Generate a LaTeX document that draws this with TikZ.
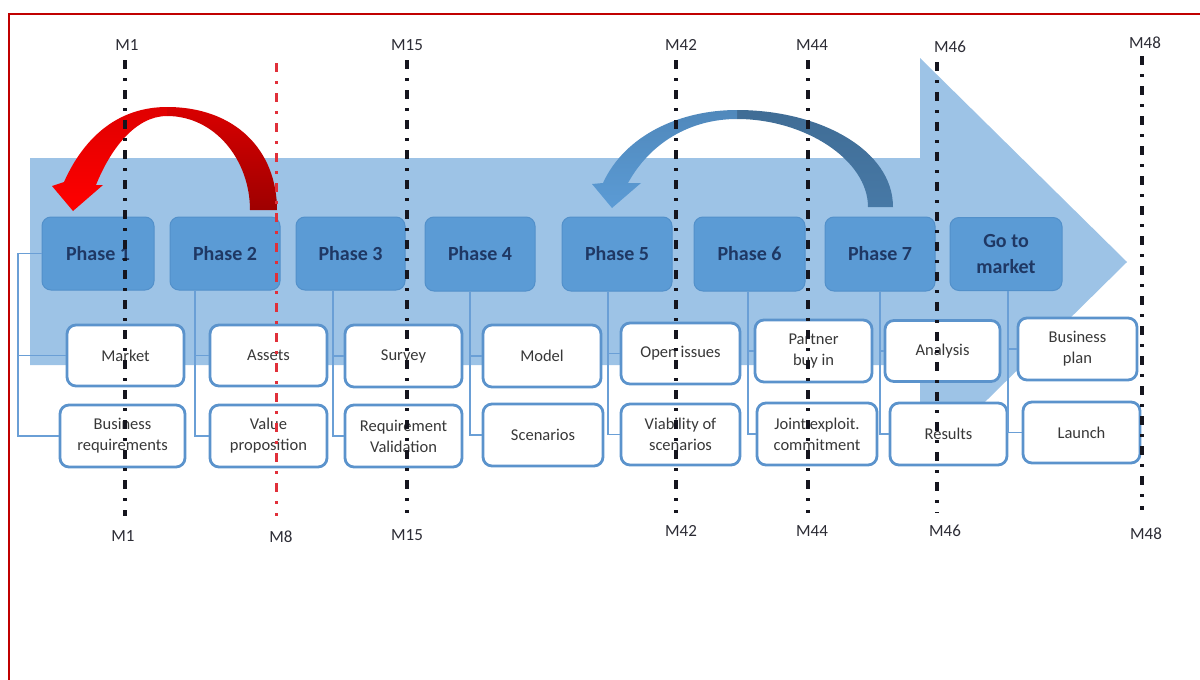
\documentclass[tikz,border=0pt]{standalone}
\usepackage{fontspec}
\setmainfont{Carlito}
\usetikzlibrary{calc}

\definecolor{arrowbg}{HTML}{9DC3E6}
\definecolor{phasefill}{HTML}{5B9BD5}
\definecolor{phaseedge}{HTML}{5290CA}
\definecolor{phasetext}{HTML}{1F3864}
\definecolor{boxedge}{HTML}{5B93CC}
\definecolor{conncol}{HTML}{6A9FD6}
\definecolor{textgrey}{HTML}{383838}
\definecolor{framered}{HTML}{C00000}
\definecolor{milestone}{HTML}{15151E}
\definecolor{redline}{HTML}{E0303A}

\tikzset{
  phase/.style={rounded corners=9pt, fill=phasefill, draw=phaseedge, line width=1pt,
    text=phasetext, font=\fontsize{20}{26}\selectfont\bfseries, align=center, inner sep=0pt},
  task/.style={rounded corners=9pt, fill=white, draw=boxedge, line width=2.8pt,
    text=textgrey, font=\fontsize{16.5}{21}\selectfont, align=center, inner sep=0pt},
  conn/.style={draw=conncol, line width=1.8pt},
  mlabel/.style={text=milestone!90, font=\fontsize{17}{18}\selectfont, inner sep=0pt},
  mline/.style={draw=milestone, line width=3.2pt, dash pattern=on 9pt off 9pt on 2.5pt off 9.5pt},
  mlinered/.style={draw=redline, line width=3pt, dash pattern=on 9pt off 9pt on 2.5pt off 9.5pt},
}

\begin{document}
\begin{tikzpicture}[x=1pt, y=-1pt]
\useasboundingbox (0,0) rectangle (1200,680);

% outer frame (open on the right and bottom)
\draw[framered, line width=2.4pt] (9,682) -- (9,14) -- (1202,14);

% large process arrow in the background
\fill[arrowbg] (30,158) -- (920,158) -- (920,58) -- (1127,262) -- (920,466)
  -- (920,365) -- (30,365) -- cycle;

% phase boxes
\node[phase, minimum width=112pt, minimum height=73pt] (p1) at (98,253.5) {Phase 1};
\node[phase, minimum width=110pt, minimum height=73pt] (p2) at (225,253.5) {Phase 2};
\node[phase, minimum width=109pt, minimum height=73pt] (p3) at (350.5,253.5) {Phase 3};
\node[phase, minimum width=110pt, minimum height=74pt] (p4) at (480,254) {Phase 4};
\node[phase, minimum width=110pt, minimum height=74pt] (p5) at (617,254) {Phase 5};
\node[phase, minimum width=111pt, minimum height=74pt] (p6) at (749.5,254) {Phase 6};
\node[phase, minimum width=110pt, minimum height=74pt] (p7) at (880,254) {Phase 7};
\node[phase, minimum width=112pt, minimum height=73pt] (go) at (1006,254) {Go to\\market};

% task boxes, first row
\node[task, minimum width=117pt, minimum height=61pt] (market)  at (125.5,355.5) {Market};
\node[task, minimum width=117pt, minimum height=61pt] (assets)  at (268.5,355.5) {Assets};
\node[task, minimum width=117pt, minimum height=62pt] (survey)  at (403.5,356) {Survey};
\node[task, minimum width=118pt, minimum height=62pt] (model)   at (542,356) {Model};
\node[task, minimum width=119pt, minimum height=61pt] (open)    at (680.5,353.5) {Open issues};
\node[task, minimum width=117pt, minimum height=62pt] (partner) at (813.5,351) {Partner\\buy in};
\node[task, minimum width=115pt, minimum height=61pt] (analysis) at (942.5,351) {Analysis};
\node[task, minimum width=119pt, minimum height=62pt] (bplan)   at (1077.5,349) {Business\\plan};

% task boxes, second row
\node[task, minimum width=125pt, minimum height=62pt] (breq)    at (122.5,436) {Business\\requirements};
\node[task, minimum width=117pt, minimum height=62pt] (value)   at (268.5,436) {Value\\proposition};
\node[task, minimum width=117pt, minimum height=62pt] (reqval)  at (403.5,436) {Requirement\\Validation};
\node[task, minimum width=120pt, minimum height=62pt] (scen)    at (543,435) {Scenarios};
\node[task, minimum width=119pt, minimum height=61pt] (viab)    at (680.5,434.5) {Viability of\\scenarios};
\node[task, minimum width=120pt, minimum height=62pt] (joint)   at (817,434) {Joint exploit.\\commitment};
\node[task, minimum width=117pt, minimum height=62pt] (results) at (948.5,434) {Results};
\node[task, minimum width=117pt, minimum height=61pt] (launch)  at (1081.5,432.5) {Launch};

% connectors from each phase to its tasks
\coordinate (p1rail) at (18,253.5);
\draw[conn] (p1.west) -- (p1rail) |- (breq.west);
\draw[conn] (p1rail) |- (market.west);
\draw[conn] ([xshift=-30pt]p2.south) |- (value.west);
\draw[conn] ([xshift=-30pt]p2.south) |- (assets.west);
\draw[conn] ([xshift=-17.5pt]p3.south) |- (reqval.west);
\draw[conn] ([xshift=-17.5pt]p3.south) |- (survey.west);
\draw[conn] ([xshift=-10pt]p4.south) |- (scen.west);
\draw[conn] ([xshift=-10pt]p4.south) |- (model.west);
\draw[conn] ([xshift=-9pt]p5.south) |- (viab.west);
\draw[conn] ([xshift=-9pt]p5.south) |- (open.west);
\draw[conn] ([xshift=-1.5pt]p6.south) |- (joint.west);
\draw[conn] ([xshift=-1.5pt]p6.south) |- (partner.west);
\draw[conn] (p7.south) |- (results.west);
\draw[conn] (p7.south) |- (analysis.west);
\draw[conn] ([xshift=2pt]go.south) |- (launch.west);
\draw[conn] ([xshift=2pt]go.south) |- (bplan.west);

% red loop arrow from phase 2 back to phase 1
\shade[top color=red!85!black, bottom color=red!62!black]
  (167,107) .. controls (235,107) and (277,150) .. (277,210)
  -- (250,210) .. controls (250,160) and (215,116) .. (167,116) -- cycle;
\shade[top color=red!88!black, bottom color=red]
  (167,107) .. controls (120,107) and (85,135) .. (64,182)
  -- (52,186) -- (73,211) -- (103,185) -- (96,185)
  .. controls (110,150) and (135,116) .. (167,116) -- cycle;

% blue loop arrow from phase 7 back to phase 5
\shade[top color=phasefill!70!black, bottom color=phasefill!78!black]
  (737,110) .. controls (820,110) and (893,150) .. (893,207)
  -- (868,207) .. controls (868,160) and (805,119) .. (737,119) -- cycle;
\shade[top color=phasefill!88!black, bottom color=phasefill]
  (737,110) .. controls (680,110) and (625,135) .. (603,183)
  -- (592,184) -- (612,208) -- (641,183) -- (628,183)
  .. controls (650,143) and (690,119) .. (737,119) -- cycle;

% milestone labels
\node[mlabel] (m1t)  at (127,45)  {M1};
\node[mlabel] (m15t) at (407,45)  {M15};
\node[mlabel] (m42t) at (681,45)  {M42};
\node[mlabel] (m44t) at (812,45)  {M44};
\node[mlabel] (m46t) at (950,47)  {M46};
\node[mlabel] (m48t) at (1145,43) {M48};
\node[mlabel] (m1b)  at (123,536) {M1};
\node[mlabel] (m8b)  at (281,537) {M8};
\node[mlabel] (m15b) at (407,535) {M15};
\node[mlabel] (m42b) at (681,531) {M42};
\node[mlabel] (m44b) at (812,531) {M44};
\node[mlabel] (m46b) at (945,531) {M46};
\node[mlabel] (m48b) at (1146,534) {M48};

% milestone lines
\coordinate (l1a) at (125,60);   \coordinate (l1b) at (125,516);
\coordinate (l8a) at (276,63);   \coordinate (l8b) at (276,516);
\coordinate (l15a) at (407,60);  \coordinate (l15b) at (407,513);
\coordinate (l42a) at (676,60);  \coordinate (l42b) at (676,513);
\coordinate (l44a) at (808,60);  \coordinate (l44b) at (808,513);
\coordinate (l46a) at (937,62);  \coordinate (l46b) at (937,513);
\coordinate (l48a) at (1142,56); \coordinate (l48b) at (1142,510);
\draw[mline] (l1a) -- (l1b);
\draw[mlinered] (l8a) -- (l8b);
\draw[mline] (l15a) -- (l15b);
\draw[mline] (l42a) -- (l42b);
\draw[mline] (l44a) -- (l44b);
\draw[mline] (l46a) -- (l46b);
\draw[mline] (l48a) -- (l48b);
\end{tikzpicture}
\end{document}
